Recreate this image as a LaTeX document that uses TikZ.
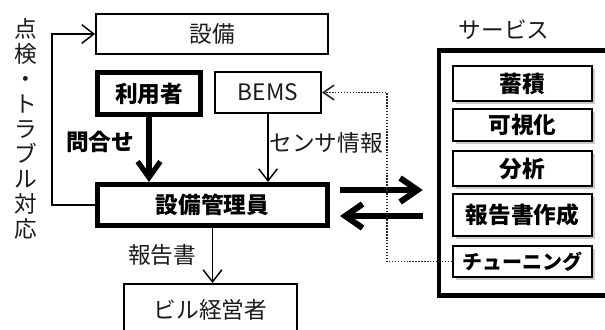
\documentclass[tikz,border=0pt]{standalone}
\usepackage{fontspec}
\setmainfont{Noto Sans CJK JP}
\usetikzlibrary{arrows.meta,calc,shadows}
\definecolor{txt}{HTML}{1A1A1A}
\begin{document}
\begin{tikzpicture}[x=0.75pt,y=-0.75pt,
  every node/.style={font=\fontsize{17}{20}\selectfont, text=txt, inner sep=0pt},
  sz/.style 2 args={minimum width=#1*0.75pt, minimum height=#2*0.75pt},
  box/.style={draw, line width=1.5pt, rectangle},
  thickbox/.style={draw, line width=3.75pt, rectangle},
  boldtext/.style={font=\fontsize{17}{20}\selectfont\bfseries, text=black},
  svcbox/.style={box, boldtext, fill=white, sz={139}{#1},
    drop shadow={shadow xshift=2.2pt, shadow yshift=-2.2pt, fill=black!45, opacity=0.45}},
  thinarrow/.style={line width=1.1pt, -{Straight Barb[length=9pt,width=14pt]}},
  bigdown/.style={line width=3.9pt, -{Straight Barb[length=12pt,width=17pt]}},
  bigarrow/.style={line width=4.5pt, -{Straight Barb[length=13pt,width=18pt]}},
  dotline/.style={line width=1.2pt, black!85, dash pattern=on 1.1pt off 1.1pt,
    -{Straight Barb[length=8pt,width=11pt]}}
]
\useasboundingbox (0,0) rectangle (605,329);
\clip (0,0) rectangle (605,329);

% boxes
\node[box, sz={232}{40}] (setsubi) at (212,34) {設備};
\node[thickbox, boldtext, sz={103}{42}] (user) at (149,93.5) {利用者};
\node[box, sz={106}{41}] (bems) at (268,92.5) {BEMS};
\node[thickbox, boldtext, sz={230}{41}] (mgr) at (212.5,205) {設備管理員};
\node[box, sz={173}{52}] (bill) at (210.5,310) {ビル経営者};

% service group
\node[draw, line width=3.4pt, rectangle, sz={200}{245}] (svc) at (539,173) {};
\node (svclabel) at (504,30) {サービス};
\node[svcbox=35] (s1) at (522.5,83.5) {蓄積};
\node[svcbox=32] (s2) at (522.5,125) {可視化};
\node[svcbox=35] (s3) at (522.5,168.5) {分析};
\node[svcbox=42] (s4) at (522.5,215) {報告書作成};
\node[svcbox=31, font=\fontsize{15}{18}\selectfont\bfseries] (tune) at (522.5,261.5) {チューニング};

% labels
\node[boldtext] (toiawase) at (100,142) {問合せ};
\node (sensor) at (326,143) {センサ情報};
\node (report) at (162,255) {報告書};
\node[align=center, font=\fontsize{17}{18.75}\selectfont] (check) at (26,129)
  {点\\検\\・\\ト\\ラ\\ブ\\ル\\対\\応};

% connectors
\coordinate (loopx) at (52,0);
\coordinate (dotx) at (387,0);
\draw[thinarrow] (mgr.west) -- (mgr.west -| loopx) -- (setsubi.west -| loopx) -- (setsubi.west);
\draw[bigdown] (user.south) -- (user.south |- mgr.north);
\draw[thinarrow] (bems.south) -- (bems.south |- mgr.north);
\draw[thinarrow] (mgr.south) -- (mgr.south |- bill.north);
\draw[bigarrow] ($(mgr.east)+(10,-15)$) -- ($(svc.west |- mgr.east)+(-14,-15)$);
\draw[bigarrow] ($(svc.west |- mgr.east)+(-14,11)$) -- ($(mgr.east)+(10,11)$);
\draw[dotline] (tune.west) -- (tune.west -| dotx) -- (bems.east -| dotx) -- (bems.east);
\end{tikzpicture}
\end{document}
